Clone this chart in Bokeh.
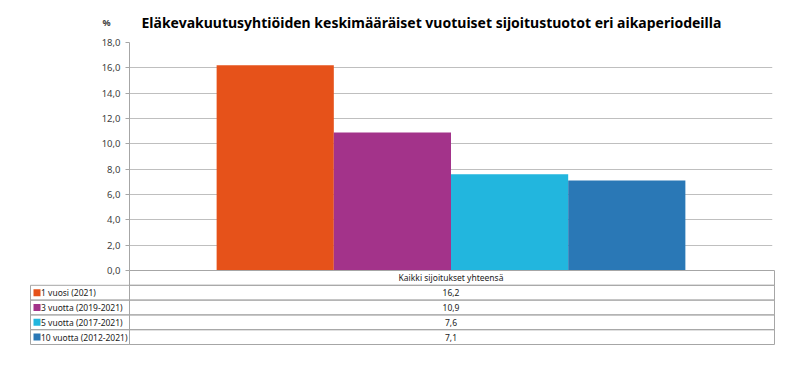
from bokeh.plotting import figure
from bokeh.layouts import column
from bokeh.models import Range1d, FactorRange, FixedTicker, ColumnDataSource
from bokeh.transform import dodge
from bokeh.core.properties import value
from bokeh.embed import file_html
from bokeh.resources import INLINE

# ---- data ----
title = "Eläkevakuutusyhtiöiden keskimääräiset vuotuiset sijoitustuotot eri aikaperiodeilla"
unit = "%"
category = "Kaikki sijoitukset yhteensä"
series = ["1 vuosi (2021)", "3 vuotta (2019-2021)", "5 vuotta (2017-2021)", "10 vuotta (2012-2021)"]
values = [16.2, 10.9, 7.6, 7.1]
value_labels = ["16,2", "10,9", "7,6", "7,1"]
colors = ["#E6521A", "#A3338A", "#22B6DE", "#2A78B6"]
y_ticks = [0, 2, 4, 6, 8, 10, 12, 14, 16, 18]
y_tick_labels = ["0,0", "2,0", "4,0", "6,0", "8,0", "10,0", "12,0", "14,0", "16,0", "18,0"]

FONT = "Noto Sans"
GRID = "#BFBFBF"
AXIS = "#A6A6A6"
TXT = "#404040"

# ---- layout constants (page px) ----
W = 782
FRAME_L, FRAME_R = 129, 772
FRAME_T, FRAME_B = 42, 270
HEAD_H = 42
PAD = 8

# ---- header (title + unit) ----
h = figure(width=W, height=HEAD_H, output_backend="svg", toolbar_location=None,
           x_range=Range1d(0, W), y_range=Range1d(HEAD_H, 0),
           min_border_left=0, min_border_right=0, min_border_top=0, min_border_bottom=0)
h.frame_align = False
h.axis.visible = False
h.grid.visible = False
h.outline_line_color = None
h.text(x=[141], y=[22], text=[title], text_font=value(FONT), text_font_size="14px",
       text_font_style="bold", text_color="#000000", text_align="left", text_baseline="middle")
h.text(x=[106], y=[22], text=[unit], text_font=value(FONT), text_font_size="9px",
       text_font_style="bold", text_color=TXT, text_align="center", text_baseline="middle")

# ---- chart ----
p = figure(width=W, height=PAD + (FRAME_B - FRAME_T) + PAD, output_backend="svg", toolbar_location=None,
           x_range=FactorRange(category, range_padding=0), y_range=Range1d(0, 18),
           min_border_left=FRAME_L, min_border_right=W - FRAME_R,
           min_border_top=PAD, min_border_bottom=PAD, margin=(-PAD, 0, 0, 0))
p.frame_align = False
p.border_fill_color = None
p.background_fill_color = None
p.outline_line_color = None
p.xaxis.visible = False
p.xgrid.visible = False
p.ygrid.grid_line_color = GRID
p.ygrid.ticker = FixedTicker(ticks=y_ticks)
p.yaxis.ticker = FixedTicker(ticks=y_ticks)
p.yaxis.major_label_overrides = {t: l for t, l in zip(y_ticks, y_tick_labels)}
p.yaxis.axis_line_color = AXIS
p.yaxis.major_tick_line_color = AXIS
p.yaxis.major_tick_out = 4
p.yaxis.major_tick_in = 0
p.yaxis.minor_tick_line_color = None
p.yaxis.major_label_text_font = FONT
p.yaxis.major_label_text_font_size = "9.5px"
p.yaxis.major_label_text_color = TXT
p.yaxis.major_label_standoff = 5

bar_w = 0.729 / len(series)
for i, (s, v, c) in enumerate(zip(series, values, colors)):
    src = ColumnDataSource(dict(cat=[category], val=[v]))
    off = (i - (len(series) - 1) / 2) * bar_w
    p.vbar(x=dodge("cat", off, range=p.x_range), top="val", width=bar_w, source=src,
           fill_color=c, line_color=None)

# ---- data table ----
TAB_L, TAB_R = 30, 774
TAB_B = 344
FR_L, FR_R = 28, 776
FR_T, FR_B = 268, 348
N_ROWS = len(series) + 1
ROW_H = (TAB_B - FRAME_B) / N_ROWS
px = 1.0 / (FRAME_R - FRAME_L)
x0 = (FR_L - FRAME_L) * px
x1 = 1 + (FR_R - FRAME_R) * px
y1 = N_ROWS + (FRAME_B - FR_T) / ROW_H
y0 = N_ROWS - (FR_B - FRAME_B) / ROW_H
t = figure(width=W, height=FR_B - FR_T, output_backend="svg", toolbar_location=None,
           x_range=Range1d(x0, x1), y_range=Range1d(y0, y1),
           min_border_left=FR_L, min_border_right=W - FR_R,
           min_border_top=0, min_border_bottom=0,
           margin=(FR_T - (FRAME_B + PAD), 0, 0, 0))
t.frame_align = False
t.axis.visible = False
t.grid.visible = False
t.outline_line_color = None
t.background_fill_color = None
t.border_fill_color = None

left = (TAB_L - FRAME_L) * px
right = 1 + (TAB_R - FRAME_R) * px
TFS = "8.5px"
TCOL = "#222222"
# header cell
t.quad(left=[0], right=[right], bottom=[N_ROWS - 1], top=[N_ROWS], fill_color=None, line_color=AXIS)
t.text(x=[0.5], y=[N_ROWS - 0.5], text=[category], text_font=value(FONT), text_font_size=TFS,
       text_color=TCOL, text_align="center", text_baseline="middle")
n = len(series)
rows_top = [n - i for i in range(n)]
t.quad(left=[left] * n, right=[0] * n, bottom=[r - 1 for r in rows_top], top=rows_top,
       fill_color=None, line_color=AXIS)
t.quad(left=[0] * n, right=[right] * n, bottom=[r - 1 for r in rows_top], top=rows_top,
       fill_color=None, line_color=AXIS)
ys = [r - 0.5 for r in rows_top]
t.rect(x=[left + 6.5 * px] * n, y=ys, width=7, height=7, width_units="screen", height_units="screen",
       fill_color=colors, line_color=None)
t.text(x=[left + 10.5 * px] * n, y=ys, text=series, text_font=value(FONT), text_font_size=TFS,
       text_color=TCOL, text_align="left", text_baseline="middle")
t.text(x=[0.5] * n, y=ys, text=value_labels, text_font=value(FONT), text_font_size=TFS,
       text_color=TCOL, text_align="center", text_baseline="middle")

layout = column(h, p, t, spacing=0)
open("out.html", "w").write(file_html(layout, INLINE))
